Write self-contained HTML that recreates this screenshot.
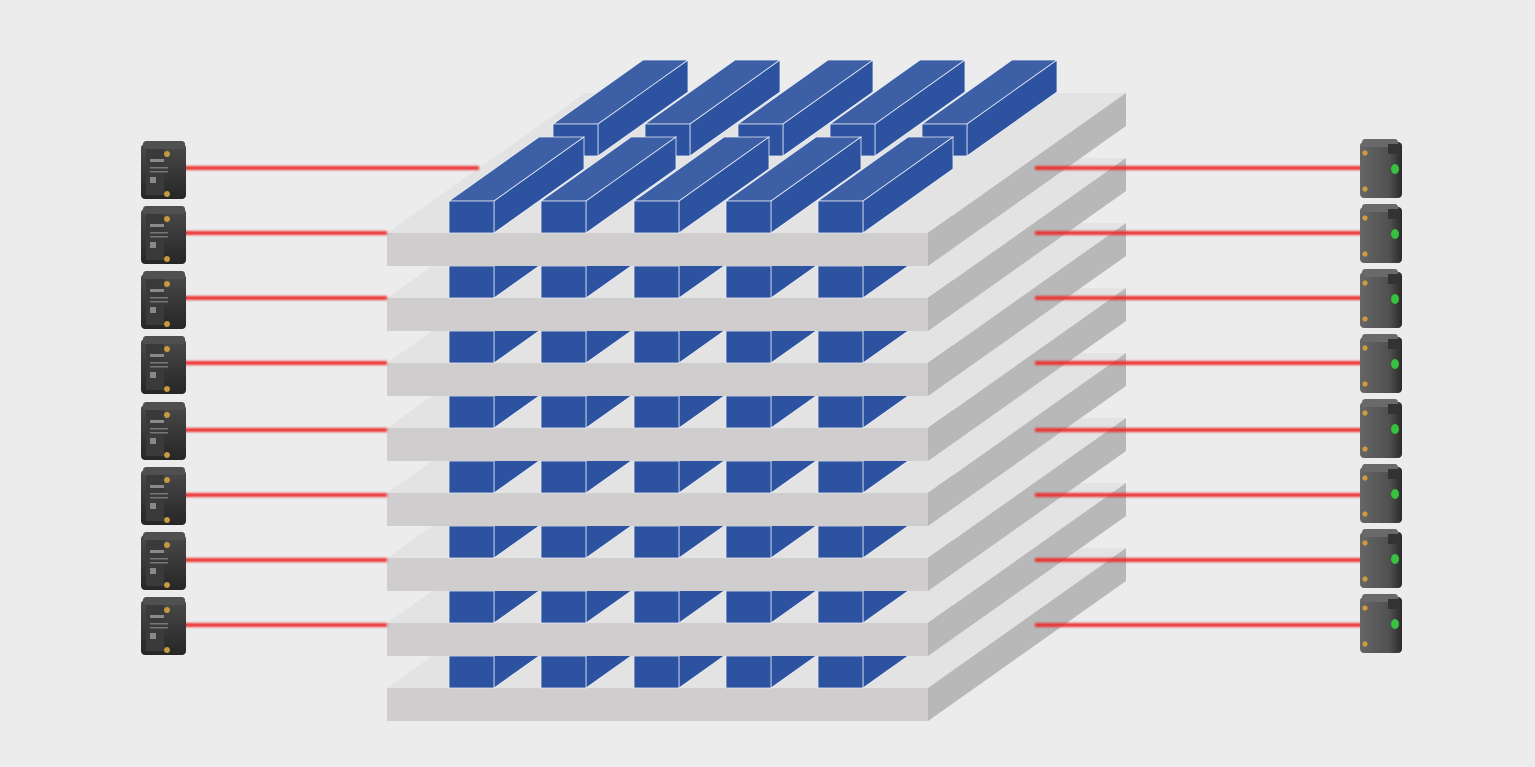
<!DOCTYPE html>
<html><head><meta charset="utf-8"><style>html,body{margin:0;padding:0;background:#ececec}svg{display:block}</style></head>
<body>
<svg width="1535" height="767" viewBox="0 0 1535 767" xmlns="http://www.w3.org/2000/svg">
<defs>
<filter id="glow" x="-5%" y="-200%" width="110%" height="500%"><feGaussianBlur stdDeviation="1"/></filter>
<g id="plate">
  <polygon points="387,0 928,0 1126,-140 585,-140" fill="#e3e3e3"/>
  <rect x="387" y="0" width="541" height="33" fill="#cfcdcd"/>
  <polygon points="928,0 928,33 1126,-107 1126,-140" fill="#b8b8b8"/>
</g>
<g id="bar" stroke="#e8ecf5" stroke-width="0.8">
  <polygon points="45,-32 45,0 135,-64 135,-96" fill="#2c52a0"/>
  <rect x="0" y="-32" width="45" height="32" fill="#2c52a0"/>
</g>
<g id="bars">
  <use href="#bar" transform="translate(449,0)"/>
  <use href="#bar" transform="translate(541,0)"/>
  <use href="#bar" transform="translate(634,0)"/>
  <use href="#bar" transform="translate(726,0)"/>
  <use href="#bar" transform="translate(818,0)"/>
</g>
<g id="tbar" stroke="#e8ecf5" stroke-width="0.8">
  <polygon points="0,-32 45,-32 135,-96 90,-96" fill="#3d5fa6"/>
  <polygon points="45,-32 45,0 135,-64 135,-96" fill="#2c52a0"/>
  <rect x="0" y="-32" width="45" height="32" fill="#2c52a0"/>
</g>
<g id="tbars">
  <use href="#tbar" transform="translate(0,0)"/>
  <use href="#tbar" transform="translate(92,0)"/>
  <use href="#tbar" transform="translate(185,0)"/>
  <use href="#tbar" transform="translate(277,0)"/>
  <use href="#tbar" transform="translate(369,0)"/>
</g>
<linearGradient id="lg" x1="0" y1="0" x2="0" y2="1"><stop offset="0" stop-color="#4a4a4a"/><stop offset="1" stop-color="#262626"/></linearGradient>
<g id="lsens">
  <rect x="141" y="3" width="45" height="55" rx="4" fill="url(#lg)"/>
  <rect x="143" y="0" width="42" height="8" rx="3" fill="#505050"/>
  <rect x="146" y="8" width="18" height="46" fill="#3a3a3a"/>
  <circle cx="167" cy="13" r="3" fill="#c89a40"/>
  <circle cx="167" cy="53" r="3" fill="#c89a40"/>
  <rect x="150" y="18" width="14" height="3" fill="#8a8a8a"/>
  <rect x="150" y="26" width="18" height="1.5" fill="#777"/>
  <rect x="150" y="30" width="18" height="1.5" fill="#777"/>
  <rect x="150" y="36" width="6" height="6" fill="#888"/>
</g>
<linearGradient id="rg" x1="0" y1="0" x2="1" y2="0"><stop offset="0" stop-color="#666"/><stop offset="0.7" stop-color="#505050"/><stop offset="1" stop-color="#2a2a2a"/></linearGradient>
<g id="rsens">
  <rect x="1360" y="3" width="42" height="56" rx="4" fill="url(#rg)"/>
  <rect x="1362" y="0" width="36" height="8" rx="3" fill="#6a6a6a"/>
  <rect x="1388" y="5" width="12" height="10" fill="#333"/>
  <circle cx="1365" cy="14" r="2.6" fill="#d09a40"/>
  <circle cx="1365" cy="50" r="2.6" fill="#d09a40"/>
  <ellipse cx="1395" cy="30" rx="4" ry="5" fill="#38c040"/>
</g>
</defs>
<rect width="1535" height="767" fill="#ececec"/>

<use href="#plate" transform="translate(0,688)"/>
<use href="#bars" transform="translate(0,688)"/>
<use href="#plate" transform="translate(0,623)"/>
<use href="#bars" transform="translate(0,623)"/>
<use href="#plate" transform="translate(0,558)"/>
<use href="#bars" transform="translate(0,558)"/>
<use href="#plate" transform="translate(0,493)"/>
<use href="#bars" transform="translate(0,493)"/>
<use href="#plate" transform="translate(0,428)"/>
<use href="#bars" transform="translate(0,428)"/>
<use href="#plate" transform="translate(0,363)"/>
<use href="#bars" transform="translate(0,363)"/>
<use href="#plate" transform="translate(0,298)"/>
<use href="#bars" transform="translate(0,298)"/>
<use href="#plate" transform="translate(0,233)"/>
<use href="#tbars" transform="translate(553,156)"/>
<use href="#tbars" transform="translate(449,233)"/>

<g stroke="#ee2626" stroke-width="4" fill="none" opacity="0.92">
  <g filter="url(#glow)">
    <line x1="180" y1="168" x2="479" y2="168"/>
    <line x1="180" y1="233" x2="387" y2="233"/>
    <line x1="180" y1="298" x2="387" y2="298"/>
    <line x1="180" y1="363" x2="387" y2="363"/>
    <line x1="180" y1="430" x2="387" y2="430"/>
    <line x1="180" y1="495" x2="387" y2="495"/>
    <line x1="180" y1="560" x2="387" y2="560"/>
    <line x1="180" y1="625" x2="387" y2="625"/>
    <line x1="1035" y1="168" x2="1362" y2="168"/>
    <line x1="1035" y1="233" x2="1362" y2="233"/>
    <line x1="1035" y1="298" x2="1362" y2="298"/>
    <line x1="1035" y1="363" x2="1362" y2="363"/>
    <line x1="1035" y1="430" x2="1362" y2="430"/>
    <line x1="1035" y1="495" x2="1362" y2="495"/>
    <line x1="1035" y1="560" x2="1362" y2="560"/>
    <line x1="1035" y1="625" x2="1362" y2="625"/>
  </g>
</g>

<use href="#lsens" transform="translate(0,141)"/>
<use href="#lsens" transform="translate(0,206)"/>
<use href="#lsens" transform="translate(0,271)"/>
<use href="#lsens" transform="translate(0,336)"/>
<use href="#lsens" transform="translate(0,402)"/>
<use href="#lsens" transform="translate(0,467)"/>
<use href="#lsens" transform="translate(0,532)"/>
<use href="#lsens" transform="translate(0,597)"/>
<use href="#rsens" transform="translate(0,139)"/>
<use href="#rsens" transform="translate(0,204)"/>
<use href="#rsens" transform="translate(0,269)"/>
<use href="#rsens" transform="translate(0,334)"/>
<use href="#rsens" transform="translate(0,399)"/>
<use href="#rsens" transform="translate(0,464)"/>
<use href="#rsens" transform="translate(0,529)"/>
<use href="#rsens" transform="translate(0,594)"/>
</svg>
</body></html>
